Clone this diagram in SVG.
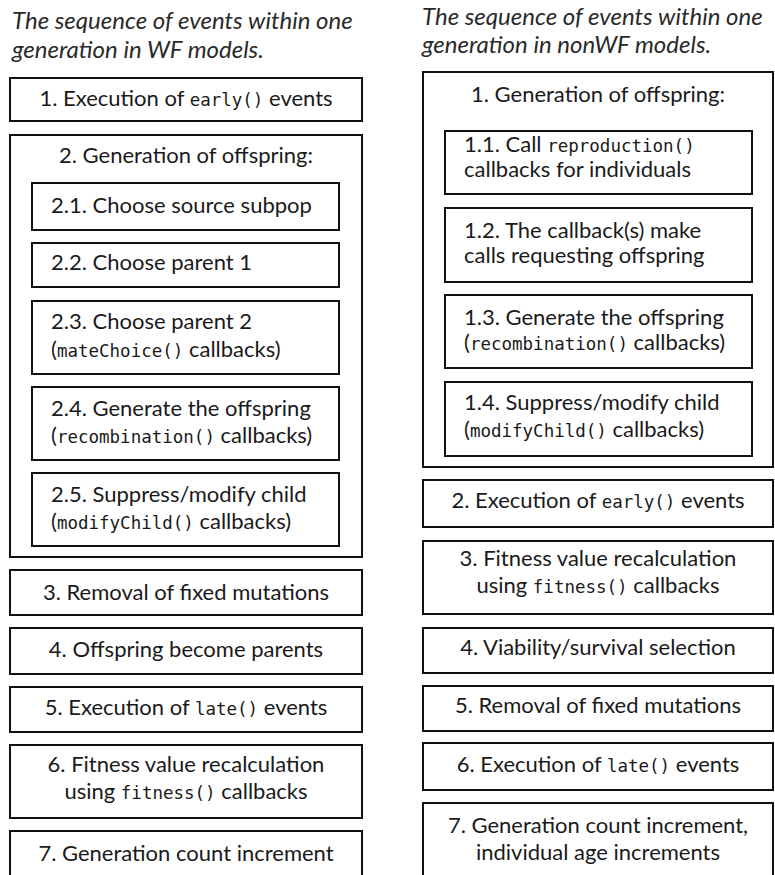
<svg xmlns="http://www.w3.org/2000/svg" width="775" height="875" viewBox="0 0 775 875">
<style>
.bg{fill:#ffffff}
rect.b{fill:#ffffff;stroke:#111111;stroke-width:2}
text{font-family:Lato,"Noto Sans","Liberation Sans",sans-serif;font-size:22px;fill:#1a1a1a}
text.t{font-style:italic;font-size:24px;fill:#2a2a2a}
text.c{text-anchor:middle}
tspan.m{font-family:"DejaVu Sans Mono","Liberation Mono",monospace;font-size:17.5px}
</style>
<rect class="bg" x="0" y="0" width="775" height="875"/>
<g id="connectors"></g>

<g id="title-wf">
<text class="t" x="12" y="29">The sequence of events within one</text>
<text class="t" x="12" y="58">generation in WF models.</text>
</g>
<g id="title-nonwf">
<text class="t" x="422" y="25">The sequence of events within one</text>
<text class="t" x="422" y="53">generation in nonWF models.</text>
</g>

<!-- WF column -->
<g id="wf1">
<rect class="b" x="10" y="78" width="352" height="43"/>
<text class="c" x="186" y="106">1. Execution of <tspan class="m">early()</tspan> events</text>
</g>
<g id="wf2">
<rect class="b" x="10" y="135" width="352" height="422"/>
<text class="c" x="186" y="163">2. Generation of offspring:</text>
</g>
<g id="wf2-1">
<rect class="b" x="32" y="183" width="307" height="47"/>
<text x="51" y="213">2.1. Choose source subpop</text>
</g>
<g id="wf2-2">
<rect class="b" x="32" y="243" width="307" height="44"/>
<text x="51" y="270">2.2. Choose parent 1</text>
</g>
<g id="wf2-3">
<rect class="b" x="32" y="301" width="307" height="73"/>
<text x="51" y="329">2.3. Choose parent 2</text>
<text x="51" y="357">(<tspan class="m">mateChoice()</tspan> callbacks)</text>
</g>
<g id="wf2-4">
<rect class="b" x="32" y="387" width="307" height="73"/>
<text x="51" y="416">2.4. Generate the offspring</text>
<text x="51" y="443">(<tspan class="m">recombination()</tspan> callbacks)</text>
</g>
<g id="wf2-5">
<rect class="b" x="32" y="473" width="307" height="73"/>
<text x="51" y="502">2.5. Suppress/modify child</text>
<text x="51" y="529">(<tspan class="m">modifyChild()</tspan> callbacks)</text>
</g>
<g id="wf3">
<rect class="b" x="10" y="570" width="352" height="45"/>
<text class="c" x="186" y="600">3. Removal of fixed mutations</text>
</g>
<g id="wf4">
<rect class="b" x="10" y="628" width="352" height="46"/>
<text class="c" x="186" y="657">4. Offspring become parents</text>
</g>
<g id="wf5">
<rect class="b" x="10" y="687" width="352" height="45"/>
<text class="c" x="186" y="715">5. Execution of <tspan class="m">late()</tspan> events</text>
</g>
<g id="wf6">
<rect class="b" x="10" y="745" width="352" height="73"/>
<text class="c" x="186" y="772">6. Fitness value recalculation</text>
<text class="c" x="186" y="799">using <tspan class="m">fitness()</tspan> callbacks</text>
</g>
<g id="wf7">
<rect class="b" x="10" y="831" width="352" height="60"/>
<text class="c" x="186" y="861">7. Generation count increment</text>
</g>

<!-- nonWF column -->
<g id="nwf1">
<rect class="b" x="423" y="72" width="350" height="395"/>
<text class="c" x="598" y="102">1. Generation of offspring:</text>
</g>
<g id="nwf1-1">
<rect class="b" x="445" y="131" width="307" height="63"/>
<text x="464" y="152">1.1. Call <tspan class="m">reproduction()</tspan></text>
<text x="464" y="177">callbacks for individuals</text>
</g>
<g id="nwf1-2">
<rect class="b" x="445" y="208" width="307" height="74"/>
<text x="464" y="238">1.2. The callback(s) make</text>
<text x="464" y="263">calls requesting offspring</text>
</g>
<g id="nwf1-3">
<rect class="b" x="445" y="295" width="307" height="73"/>
<text x="464" y="325">1.3. Generate the offspring</text>
<text x="464" y="350">(<tspan class="m">recombination()</tspan> callbacks)</text>
</g>
<g id="nwf1-4">
<rect class="b" x="445" y="382" width="307" height="74"/>
<text x="464" y="410">1.4. Suppress/modify child</text>
<text x="464" y="437">(<tspan class="m">modifyChild()</tspan> callbacks)</text>
</g>
<g id="nwf2">
<rect class="b" x="423" y="480" width="350" height="47"/>
<text class="c" x="598" y="508">2. Execution of <tspan class="m">early()</tspan> events</text>
</g>
<g id="nwf3">
<rect class="b" x="423" y="541" width="350" height="73"/>
<text class="c" x="598" y="566">3. Fitness value recalculation</text>
<text class="c" x="598" y="593">using <tspan class="m">fitness()</tspan> callbacks</text>
</g>
<g id="nwf4">
<rect class="b" x="423" y="628" width="350" height="45"/>
<text class="c" x="598" y="655">4. Viability/survival selection</text>
</g>
<g id="nwf5">
<rect class="b" x="423" y="686" width="350" height="45"/>
<text class="c" x="598" y="713">5. Removal of fixed mutations</text>
</g>
<g id="nwf6">
<rect class="b" x="423" y="743" width="350" height="47"/>
<text class="c" x="598" y="772">6. Execution of <tspan class="m">late()</tspan> events</text>
</g>
<g id="nwf7">
<rect class="b" x="423" y="803" width="350" height="90"/>
<text class="c" x="598" y="833">7. Generation count increment,</text>
<text class="c" x="598" y="860">individual age increments</text>
</g>
</svg>
